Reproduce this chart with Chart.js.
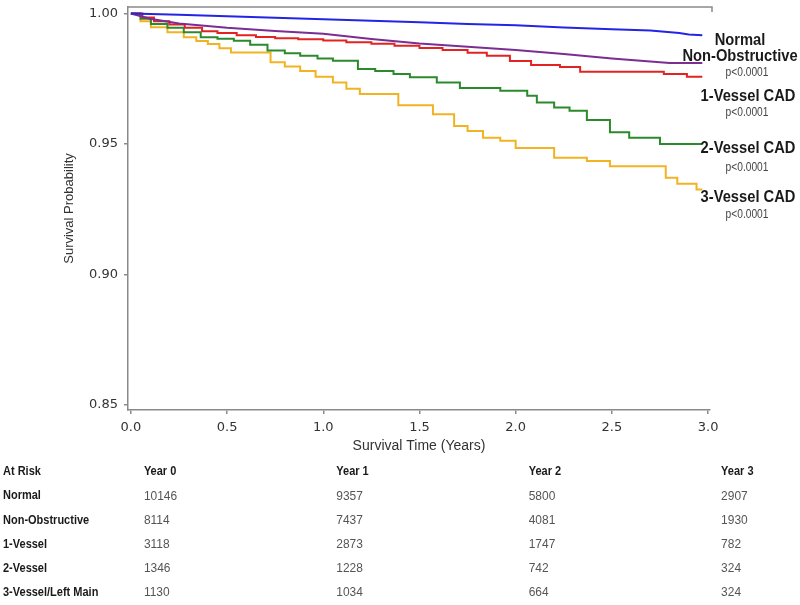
<!DOCTYPE html>
<html>
<head>
<meta charset="utf-8">
<script src="https://cdn.jsdelivr.net/npm/chart.js@4.4.0/dist/chart.umd.min.js"></script>
<style>
  html, body { margin: 0; padding: 0; background: #fff; }
  #wrap { width: 800px; height: 605px; position: relative; }
</style>
</head>
<body>
<div id="wrap"><canvas id="kmChart"></canvas></div>
<script>
// Kaplan-Meier curves (time in years -> survival probability)
const normalT = [0, 0.25, 0.5, 0.75, 1.0, 1.25, 1.5, 1.75, 2.0, 2.25, 2.5, 2.7, 2.85, 2.9, 2.97];
const normalS = [1, 0.9995, 0.999, 0.9984, 0.9978, 0.9972, 0.9967, 0.996, 0.9955, 0.9946, 0.994, 0.9935, 0.9925, 0.992, 0.9917];

const nonObsT = [0, 0.1, 0.25, 0.5, 0.75, 1.0, 1.25, 1.5, 1.75, 2.0, 2.25, 2.5, 2.6, 2.8, 2.97];
const nonObsS = [1, 0.998, 0.9962, 0.9945, 0.9933, 0.9922, 0.9902, 0.9885, 0.9873, 0.986, 0.9845, 0.9828, 0.9822, 0.981, 0.981];

const oneVesT = [0, 0.06, 0.12, 0.2, 0.28, 0.37, 0.45, 0.55, 0.65, 0.75, 0.87, 1.0, 1.12, 1.25, 1.37, 1.5, 1.62, 1.75, 1.85, 1.97, 2.08, 2.23, 2.335, 2.77, 2.89, 2.97];
const oneVesS = [1, 0.9985, 0.997, 0.9958, 0.9945, 0.9932, 0.9925, 0.9917, 0.991, 0.9905, 0.9901, 0.9897, 0.989, 0.9884, 0.9876, 0.9868, 0.986, 0.985, 0.9838, 0.9818, 0.9803, 0.9795, 0.9777, 0.9768, 0.9758, 0.9758];

const twoVesT = [0, 0.05, 0.104, 0.19, 0.275, 0.363, 0.45, 0.535, 0.62, 0.71, 0.8, 0.88, 0.97, 1.05, 1.18, 1.27, 1.365, 1.45, 1.59, 1.71, 1.92, 2.06, 2.11, 2.2, 2.28, 2.37, 2.49, 2.59, 2.75, 2.97];
const twoVesS = [1, 0.998, 0.996, 0.9945, 0.9928, 0.9909, 0.9903, 0.9896, 0.988, 0.9858, 0.9848, 0.9838, 0.9828, 0.9819, 0.9787, 0.978, 0.9768, 0.9756, 0.9736, 0.9714, 0.9704, 0.9685, 0.9659, 0.964, 0.9627, 0.9592, 0.9545, 0.9524, 0.95, 0.95];

const threeVesT = [0, 0.05, 0.104, 0.19, 0.275, 0.34, 0.40, 0.46, 0.52, 0.726, 0.8, 0.88, 0.96, 1.05, 1.12, 1.19, 1.39, 1.57, 1.68, 1.75, 1.83, 1.92, 2.0, 2.2, 2.37, 2.49, 2.78, 2.84, 2.94, 2.97];
const threeVesS = [1, 0.997, 0.9947, 0.9928, 0.9909, 0.9895, 0.9883, 0.9867, 0.9851, 0.9813, 0.9797, 0.978, 0.9758, 0.9736, 0.9712, 0.9691, 0.9648, 0.9614, 0.9569, 0.955, 0.9524, 0.9512, 0.9484, 0.9447, 0.9435, 0.9414, 0.937, 0.9347, 0.9325, 0.9325];

// axis ticks
const xTicks = [0, 0.5, 1.0, 1.5, 2.0, 2.5, 3.0];
const yTicks = [0.85, 0.90, 0.95, 1.00];

// curve labels at the right
const groupNames = ['Normal', 'Non-Obstructive', '1-Vessel CAD', '2-Vessel CAD', '3-Vessel CAD'];
const groupPvals = ['', 'p<0.0001', 'p<0.0001', 'p<0.0001', 'p<0.0001'];

// numbers at risk table
const riskYears = [0, 1, 2, 3];
const riskRows = ['Normal', 'Non-Obstructive', '1-Vessel', '2-Vessel', '3-Vessel/Left Main'];
const riskNormal = [10146, 9357, 5800, 2907];
const riskNonObs = [8114, 7437, 4081, 1930];
const riskOneVes = [3118, 2873, 1747, 782];
const riskTwoVes = [1346, 1228, 742, 324];
const riskThreeVes = [1130, 1034, 664, 324];

function pts(t, s) {
  return t.map((v, i) => ({ x: v, y: s[i] }));
}

function curve(t, s, color, step) {
  return {
    data: pts(t, s),
    borderColor: color,
    borderWidth: 2,
    pointRadius: 0,
    stepped: step,
    fill: false
  };
}

const AXIS = '#8a8a8a';
const SANS = '"Liberation Sans", Arial, sans-serif';

// no narrow font installed, so squeeze the text horizontally
function narrowText(ctx, text, x, y, sx) {
  ctx.save();
  ctx.translate(x, y);
  ctx.scale(sx, 1);
  ctx.fillText(text, 0, 0);
  ctx.restore();
}

// top frame line
const topFrame = {
  id: 'topFrame',
  afterDraw(chart) {
    const { ctx, chartArea } = chart;
    ctx.save();
    ctx.strokeStyle = AXIS;
    ctx.lineWidth = 1.5;
    ctx.beginPath();
    ctx.moveTo(chartArea.left, chartArea.top);
    ctx.lineTo(chartArea.right + 2, chartArea.top);
    ctx.lineTo(chartArea.right + 2, chartArea.top + 5);
    ctx.stroke();
    ctx.restore();
  }
};

// group names + p values right of the curves
const curveLabels = {
  id: 'curveLabels',
  afterDraw(chart) {
    const ctx = chart.ctx;
    const nameX = [740, 740, 748, 748, 748];
    const nameY = [40, 56, 96, 148, 197];
    const pY = [0, 73, 113, 168, 215];
    ctx.save();
    ctx.textAlign = 'center';
    ctx.textBaseline = 'middle';
    groupNames.forEach((n, i) => {
      ctx.fillStyle = '#1a1a1a';
      ctx.font = 'bold 17px ' + SANS;
      narrowText(ctx, n, nameX[i], nameY[i], 0.865);
      if (groupPvals[i]) {
        ctx.fillStyle = '#444';
        ctx.font = '12px ' + SANS;
        narrowText(ctx, groupPvals[i], 747, pY[i], 0.85);
      }
    });
    ctx.restore();
  }
};

// at risk table under the x axis
const riskTable = {
  id: 'riskTable',
  afterDraw(chart) {
    const ctx = chart.ctx;
    const xs = chart.scales.x;
    const vals = [riskNormal, riskNonObs, riskOneVes, riskTwoVes, riskThreeVes];
    const colX = riskYears.map(y => xs.getPixelForValue(y) + 13);
    ctx.save();
    ctx.textAlign = 'left';
    ctx.textBaseline = 'middle';
    ctx.fillStyle = '#1a1a1a';
    ctx.font = 'bold 12.5px ' + SANS;
    narrowText(ctx, 'At Risk', 3, 472, 0.88);
    riskYears.forEach((y, j) => narrowText(ctx, 'Year ' + y, colX[j], 472, 0.88));
    riskRows.forEach((r, i) => {
      const yy = 496 + i * 24.2;
      ctx.fillStyle = '#1a1a1a';
      ctx.font = 'bold 12.5px ' + SANS;
      narrowText(ctx, r, 3, yy, 0.88);
      ctx.fillStyle = '#555';
      ctx.font = '13px ' + SANS;
      vals[i].forEach((v, j) => narrowText(ctx, String(v), colX[j], yy, 0.92));
    });
    ctx.restore();
  }
};

const config = {
  type: 'line',
  data: {
    datasets: [
      curve(normalT, normalS, '#2424e6', false),
      curve(nonObsT, nonObsS, '#7b2d92', false),
      curve(oneVesT, oneVesS, '#e32222', 'before'),
      curve(twoVesT, twoVesS, '#2b8a2b', 'before'),
      curve(threeVesT, threeVesS, '#f2b322', 'before')
    ]
  },
  options: {
    responsive: true,
    maintainAspectRatio: false,
    animation: false,
    layout: { padding: { left: 0, right: 90, top: 7, bottom: 145 } },
    plugins: {
      legend: { display: false },
      tooltip: { enabled: false }
    },
    scales: {
      x: {
        type: 'linear',
        min: -0.015,
        max: 3.01,
        afterFit(s) { s.height = 50; },
        afterBuildTicks(s) { s.ticks = xTicks.map(v => ({ value: v })); },
        grid: { drawOnChartArea: false, tickLength: 4, color: AXIS, lineWidth: 1.5 },
        border: { color: AXIS, width: 1.5 },
        ticks: {
          padding: 6,
          color: '#333',
          font: { family: '"DejaVu Sans", sans-serif', size: 13 },
          callback: v => v.toFixed(1)
        },
        title: {
          display: true,
          text: 'Survival Time (Years)',
          color: '#333',
          padding: 5,
          font: { family: SANS, size: 14 }
        }
      },
      y: {
        type: 'linear',
        min: 0.8480,
        max: 1.0025,
        afterFit(s) { s.width = 128; s.paddingTop = 0; s.paddingBottom = 0; },
        afterBuildTicks(s) { s.ticks = yTicks.map(v => ({ value: v })); },
        grid: { drawOnChartArea: false, tickLength: 4, color: AXIS, lineWidth: 1.5 },
        border: { color: AXIS, width: 1.5 },
        ticks: {
          padding: 6,
          color: '#333',
          font: { family: '"DejaVu Sans", sans-serif', size: 13 },
          callback: v => v.toFixed(2)
        },
        title: {
          display: true,
          text: 'Survival Probability',
          color: '#333',
          padding: 62,
          font: { family: SANS, size: 13 }
        }
      }
    }
  },
  plugins: [topFrame, curveLabels, riskTable]
};

const kmChart = new Chart(document.getElementById('kmChart'), config);
</script>
</body>
</html>
